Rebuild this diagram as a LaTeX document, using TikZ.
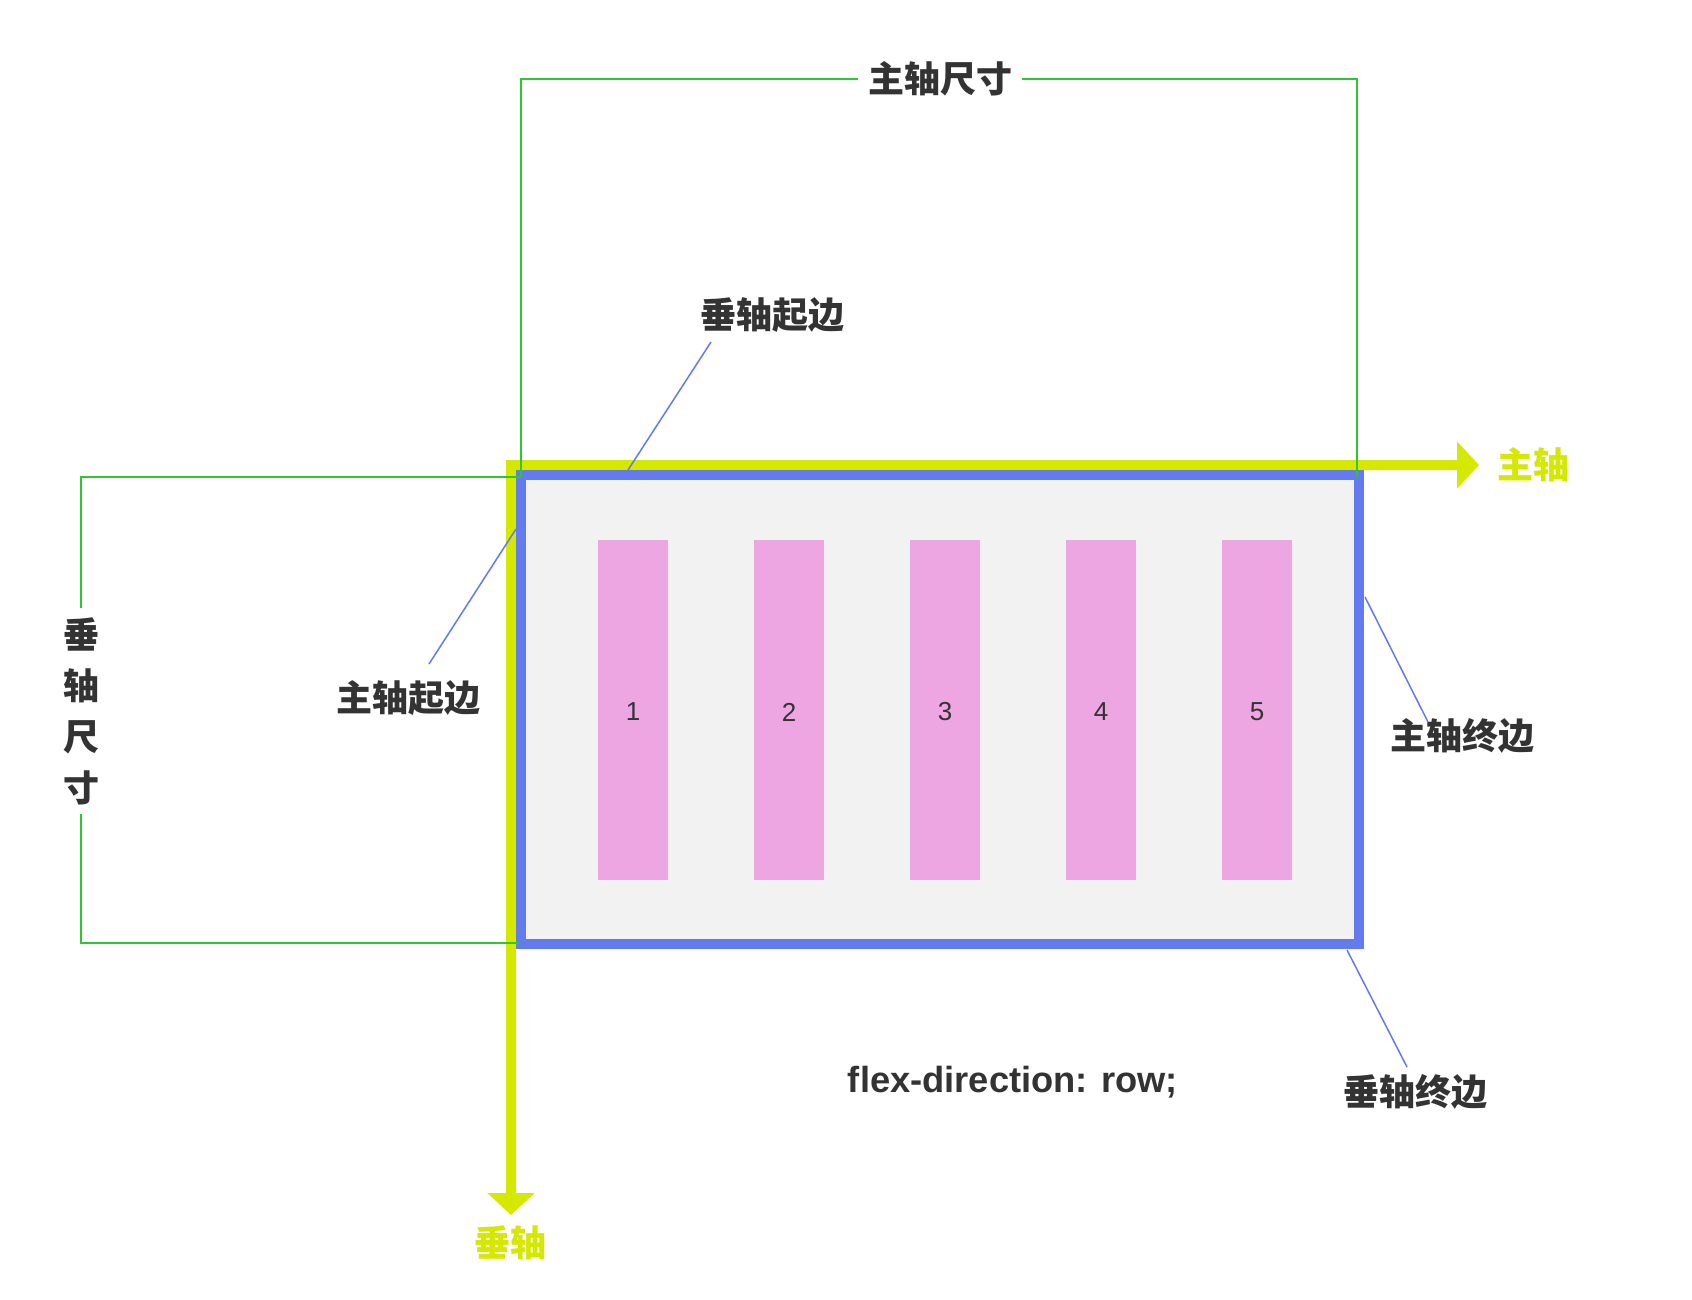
\documentclass[tikz,border=0pt]{standalone}
\usepackage{fontspec}
\setmainfont{Liberation Sans}
\newfontfamily\cjk{Noto Sans CJK SC}
\usetikzlibrary{arrows.meta}
\definecolor{axisY}{RGB}{212,232,0}
\definecolor{boxB}{RGB}{99,123,238}
\definecolor{dimG}{RGB}{46,200,46}
\definecolor{itemP}{RGB}{237,166,226}
\definecolor{fillG}{RGB}{242,242,242}
\definecolor{txt}{RGB}{51,51,51}
\tikzset{
  cjklabel/.style={font=\cjk\bfseries\fontsize{36}{40}\selectfont, text=txt, inner sep=0pt},
  axislabel/.style={font=\cjk\bfseries\fontsize{36}{40}\selectfont, text=axisY, inner sep=0pt},
  item/.style={rectangle, fill=itemP, minimum width=70pt, minimum height=340pt, inner sep=0pt,
    font=\fontsize{26}{30}\selectfont, text=txt},
  dimline/.style={draw=dimG, line width=2pt},
  leader/.style={draw=boxB, line width=1.5pt},
  axisline/.style={draw=axisY, line width=10pt, line join=miter,
    {Triangle[length=22pt,width=46pt]}-{Triangle[length=22pt,width=46pt]}},
}
\begin{document}
\begin{tikzpicture}[x=1pt,y=-1pt]
\useasboundingbox (0,0) rectangle (1692,1300);
\fill[white] (0,0) rectangle (1692,1300);

% container
\node[draw=boxB, fill=fillG, line width=10pt, minimum width=838pt, minimum height=469pt, inner sep=0pt] (box) at (940,709.5) {};

% axes
\coordinate (mainEnd) at (1479,465);
\coordinate (corner) at (511,465);
\coordinate (crossEnd) at (511,1215);
\draw[axisline] (mainEnd) -- (corner) -- (crossEnd);
\node[axislabel] (mainlbl) at (1533,465) {主轴};
\node[axislabel] (crosslbl) at (510,1243) {垂轴};

% items
\foreach \i in {1,...,5}{
  \node[item] (it\i) at ({633+156*(\i-1)},710) {};
  \node[font=\fontsize{26}{30}\selectfont, text=txt, inner sep=0pt] (num\i) at ({633+156*(\i-1)},712) {\i};
}

% main size dimension
\node[cjklabel, inner xsep=10pt] (msize) at (940,79) {主轴尺寸};
\coordinate (mL) at (521,477);
\coordinate (mLt) at (521,79);
\coordinate (mR) at (1357,477);
\coordinate (mRt) at (1357,79);
\draw[dimline] (mL) -- (mLt) -- (msize.west);
\draw[dimline] (msize.east) -- (mRt) -- (mR);

% cross size dimension
\node[cjklabel, align=center, font=\cjk\bfseries\fontsize{36}{51}\selectfont] (csize) at (81,711) {垂\\轴\\尺\\寸};
\coordinate (cT) at (521,477);
\coordinate (cTl) at (81,477);
\coordinate (cG1) at (81,608);
\coordinate (cG2) at (81,814);
\coordinate (cBl) at (81,943);
\coordinate (cB) at (519,943);
\draw[dimline] (cT) -- (cTl) -- (cG1);
\draw[dimline] (cG2) -- (cBl) -- (cB);

% edge labels
\node[cjklabel] (crossStart) at (772,315) {垂轴起边};
\coordinate (csA) at (711,342);
\coordinate (csB) at (628,470);
\draw[leader] (csA) -- (csB);

\node[cjklabel] (mainStart) at (408,698) {主轴起边};
\coordinate (msA) at (429,664);
\coordinate (msB) at (516,529);
\draw[leader] (msA) -- (msB);

\node[cjklabel] (mainEndLbl) at (1462,736) {主轴终边};
\coordinate (meA) at (1365,597);
\coordinate (meB) at (1428,722);
\draw[leader] (meA) -- (meB);

\node[cjklabel] (crossEndLbl) at (1415,1092) {垂轴终边};
\coordinate (ceA) at (1347,950);
\coordinate (ceB) at (1407,1067);
\draw[leader] (ceA) -- (ceB);

% css
\node[anchor=base, inner sep=0pt, font=\bfseries\fontsize{36.3}{40}\selectfont, text=txt] (css) at (1013,1092) {flex-direction: row;};
\end{tikzpicture}
\end{document}
